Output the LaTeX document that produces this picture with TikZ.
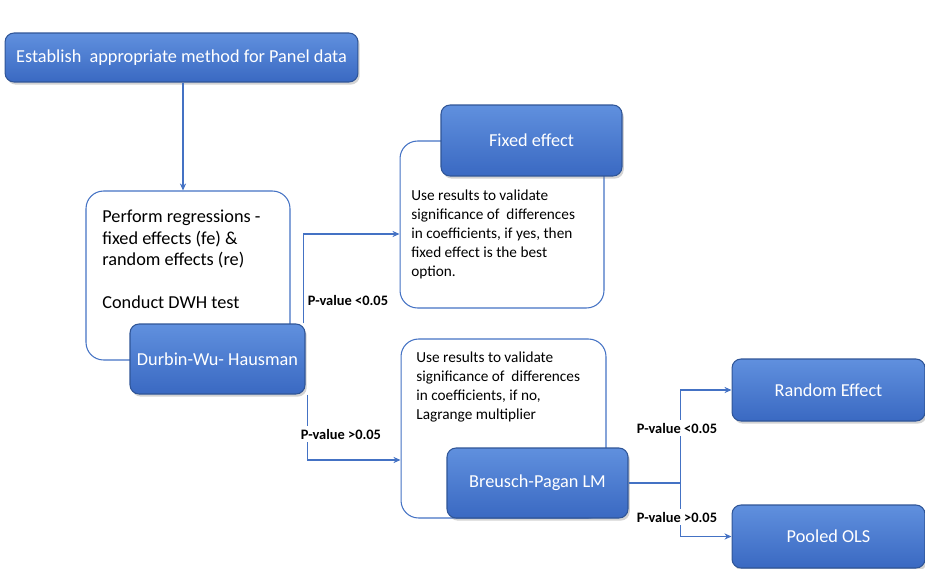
\documentclass[tikz,border=0pt]{standalone}
\usepackage{fontspec}
\setmainfont{Carlito}
\usepackage{tikz}
\usetikzlibrary{arrows.meta, calc, positioning, shadows}
\usepackage{xcolor}
\definecolor{lineblue}{HTML}{4472C4}
\definecolor{boxtop}{HTML}{6090DE}
\definecolor{boxbot}{HTML}{3A69C2}
\definecolor{boxedge}{HTML}{2F5597}

\begin{document}
\begin{tikzpicture}[x=0.02cm, y=-0.02cm,
  bluebox/.style={draw=boxedge, line width=0.6pt, rounded corners=0.18cm,
    top color=boxtop, bottom color=boxbot, text=white, font=\fontsize{10.4}{12}\selectfont,
    drop shadow={opacity=0.35, shadow xshift=1pt, shadow yshift=-1.5pt}, inner sep=0pt},
  panel/.style={draw=lineblue, line width=0.6pt, rounded corners=0.35cm, fill=white, inner sep=0pt},
  note/.style={anchor=north west, align=left, inner sep=0pt},
  pval/.style={fill=white, font=\bfseries\fontsize{8.2}{9}\selectfont, inner sep=1.5pt},
  link/.style={draw=lineblue, line width=0.6pt, -{Stealth[length=4pt, width=3.5pt]}}
]
  \useasboundingbox (0,0) rectangle (925,568);

  % Start
  \node[bluebox, minimum width=7.06cm, minimum height=0.98cm] (start) at (181.5,57.5)
    {Establish\ \ appropriate method for Panel data};

  % Regression panel and the DWH test
  \node[panel, minimum width=4.08cm, minimum height=3.38cm] (reg) at (188,275.5) {};
  \node[note, font=\fontsize{10.4}{12.2}\selectfont] (regtext) at (102,210)
    {Perform regressions -\\fixed effects (fe) \&\\random effects (re)\\[12.2pt]Conduct DWH test};
  \node[bluebox, minimum width=3.5cm, minimum height=1.4cm] (dwh) at (217.5,359) {Durbin-Wu- Hausman};

  % Fixed effect branch
  \node[panel, minimum width=4.08cm, minimum height=3.34cm] (fepanel) at (502,224.5) {};
  \node[bluebox, minimum width=3.62cm, minimum height=1.42cm] (fe) at (531.5,140.5) {Fixed effect};
  \node[note, font=\fontsize{8.7}{10.8}\selectfont] (fetext) at (411,190)
    {Use results to validate\\significance of\ \ differences\\in coefficients, if yes, then\\fixed effect is the best\\option.};

  % Random effect branch
  \node[panel, minimum width=4.1cm, minimum height=3.58cm] (repanel) at (503.5,428.5) {};
  \node[note, font=\fontsize{8.7}{10.8}\selectfont] (retext) at (416,352)
    {Use results to validate\\significance of\ \ differences\\in coefficients, if no,\\Lagrange multiplier};
  \node[bluebox, minimum width=3.62cm, minimum height=1.4cm] (bp) at (537.5,483) {Breusch-Pagan LM};

  % Outcomes of LM test
  \node[bluebox, minimum width=3.86cm, minimum height=1.24cm] (re) at (828.5,390) {Random Effect};
  \node[bluebox, minimum width=3.86cm, minimum height=1.26cm] (ols) at (828.5,536.5) {Pooled OLS};

  % Connectors
  \draw[link] ([xshift=0.03cm]start.south) -- ([xshift=0.03cm]start.south |- reg.north);
  \draw[link] ([xshift=-0.04cm]dwh.north east) |- ([yshift=-0.19cm]fepanel.west);
  \draw[link] ([xshift=0.04cm]dwh.south east) |- ([yshift=-0.63cm]repanel.west);
  \coordinate (split) at ($(bp.east)+(52,0)$);
  \draw[lineblue, line width=0.6pt] (bp.east) -- (split);
  \draw[link] (split) |- (re.west);
  \draw[link] (split) |- (ols.west);

  % P-value labels
  \node[pval] (p1) at (348,300) {P-value <0.05};
  \node[pval] (p2) at (341,434) {P-value >0.05};
  \node[pval] (p3) at (677,428) {P-value <0.05};
  \node[pval] (p4) at (677,517) {P-value >0.05};
\end{tikzpicture}
\end{document}
